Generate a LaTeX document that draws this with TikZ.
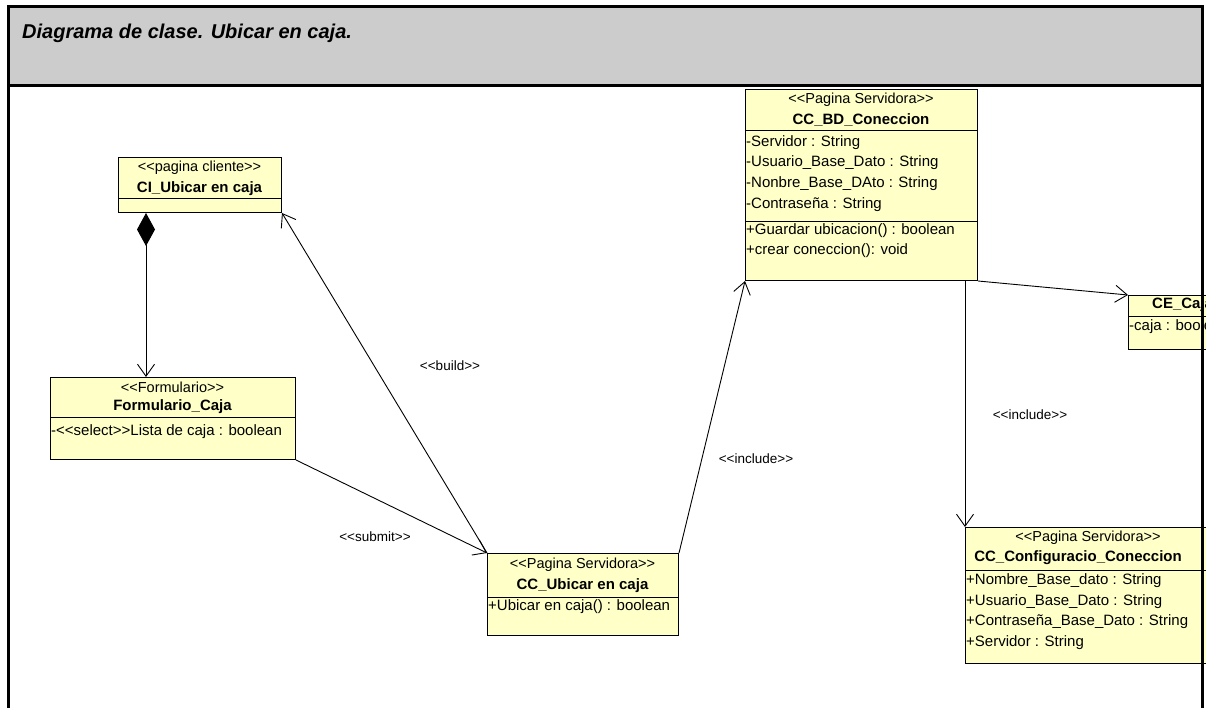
\documentclass[tikz,border=0pt]{standalone}
\usepackage{fontspec}
\setmainfont{Liberation Sans}[Ligatures=TeXOff]
\usetikzlibrary{arrows.meta}
\definecolor{umlyellow}{RGB}{255,255,200}
\definecolor{headgray}{RGB}{204,204,204}
\tikzset{
  umlbox/.style={draw=black, fill=umlyellow, line width=1pt, inner sep=0pt, anchor=north west},
  stereo/.style={font=\fontsize{14.5}{16}\selectfont, inner sep=0pt},
  cname/.style={font=\bfseries\fontsize{15}{17}\selectfont, inner sep=0pt},
  attr/.style={font=\fontsize{15}{17}\selectfont, inner sep=0pt, anchor=west},
  lbl/.style={font=\fontsize{13.5}{15}\selectfont, inner sep=0pt},
  sep/.style={line width=1pt},
  assoc/.style={line width=0.9pt, -{Straight Barb[length=12pt,width=17pt,line width=0.9pt]}},
  compo/.style={line width=0.9pt, {Diamond[length=33pt,width=18pt]}-{Straight Barb[length=12pt,width=17pt,line width=0.9pt]}}
}
\begin{document}
\begin{tikzpicture}[x=1pt,y=-1pt]
\useasboundingbox (0,0) rectangle (1206,708);
\clip (0,0) rectangle (1206,708);

% header band and frame
\fill[headgray] (8,7) rectangle (1202,86);
\node[anchor=west, inner sep=0pt, font=\bfseries\itshape\fontsize{20}{24}\selectfont] (title) at (22,33) {Diagrama de clase. Ubicar en caja.};
\draw[line width=3pt] (8,720) -- (8,7) -- (1202,7) -- (1202,720);
\draw[line width=3pt] (8,86) -- (1202,86);

% CI_Ubicar en caja
\node[umlbox, minimum width=163pt, minimum height=55pt] (ci) at (118,157) {};
\draw[sep] (ci.west |- 0,199) -- (ci.east |- 0,199);
\node[stereo] (ciS) at (199.5,168) {<<pagina cliente>>};
\node[cname] (ciN) at (199.5,189) {CI\_Ubicar en caja};

% Formulario_Caja
\node[umlbox, minimum width=245pt, minimum height=82pt] (fo) at (50,377) {};
\draw[sep] (fo.west |- 0,417) -- (fo.east |- 0,417);
\node[stereo] (foS) at (172.5,387) {<<Formulario>>};
\node[cname] (foN) at (172.5,407) {Formulario\_Caja};
\node[attr] (foA) at (51,432) {-<<select>>Lista de caja : boolean};

% CC_Ubicar en caja
\node[umlbox, minimum width=191pt, minimum height=82pt] (cu) at (487,553) {};
\draw[sep] (cu.west |- 0,597) -- (cu.east |- 0,597);
\node[stereo] (cuS) at (582.5,565) {<<Pagina Servidora>>};
\node[cname] (cuN) at (582.5,586) {CC\_Ubicar en caja};
\node[attr] (cuA) at (488,607) {+Ubicar en caja() : boolean};

% CC_BD_Coneccion
\node[umlbox, minimum width=232pt, minimum height=191pt] (bd) at (745,89) {};
\draw[sep] (bd.west |- 0,131) -- (bd.east |- 0,131);
\draw[sep] (bd.west |- 0,222) -- (bd.east |- 0,222);
\node[stereo] (bdS) at (861,100) {<<Pagina Servidora>>};
\node[cname] (bdN) at (861,120) {CC\_BD\_Coneccion};
\node[attr] (bdA1) at (746,143) {-Servidor : String};
\node[attr] (bdA2) at (746,163) {-Usuario\_Base\_Dato : String};
\node[attr] (bdA3) at (746,184) {-Nonbre\_Base\_DAto : String};
\node[attr] (bdA4) at (746,205) {-Contraseña : String};
\node[attr] (bdM1) at (746,231) {+Guardar ubicacion() : boolean};
\node[attr] (bdM2) at (746,251) {+crear coneccion(): void};

% CE_Caja, running past the right edge
\node[umlbox, minimum width=110pt, minimum height=54pt] (ce) at (1128,295) {};
\draw[sep] (ce.west |- 0,316) -- (ce.east |- 0,316);
\node[cname, anchor=west] (ceN) at (1152,305) {CE\_Caja};
\node[attr] (ceA) at (1129,327) {-caja : boolean};

% CC_Configuracio_Coneccion
\node[umlbox, minimum width=250pt, minimum height=136pt] (cf) at (965,527) {};
\draw[sep] (cf.west |- 0,570) -- (cf.east |- 0,570);
\node[stereo] (cfS) at (1088,538) {<<Pagina Servidora>>};
\node[cname] (cfN) at (1078,558) {CC\_Configuracio\_Coneccion};
\node[attr] (cfA1) at (966,581) {+Nombre\_Base\_dato : String};
\node[attr] (cfA2) at (966,602) {+Usuario\_Base\_Dato : String};
\node[attr] (cfA3) at (966,622) {+Contraseña\_Base\_Dato : String};
\node[attr] (cfA4) at (966,643) {+Servidor : String};

% right frame edge over the clipped boxes
\draw[line width=3pt] (1202,86) -- (1202,720);

% connectors
\draw[compo] (ci.south -| 146,0) -- (fo.north -| 146,0);
\draw[assoc] (cu.north west) -- (ci.south east);
\draw[assoc] (fo.south east) -- (cu.north west);
\draw[assoc] (cu.north east) -- (bd.south west);
\draw[assoc] (bd.south east) -- (ce.north west);
\draw[assoc] (cf.north west |- bd.south) -- (cf.north west);

% stereotype labels on connectors
\node[lbl] (lbBuild) at (450,366) {<<build>>};
\node[lbl] (lbSubmit) at (375,537) {<<submit>>};
\node[lbl] (lbInc1) at (756,459) {<<include>>};
\node[lbl] (lbInc2) at (1030,415) {<<include>>};
\end{tikzpicture}
\end{document}
